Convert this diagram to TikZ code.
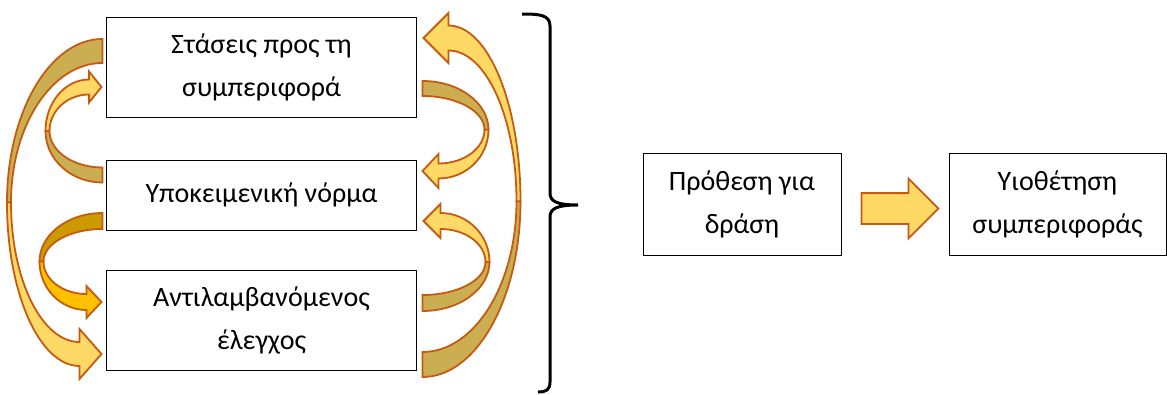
\documentclass[tikz,border=0pt]{standalone}
\usepackage{fontspec}
\setmainfont{Carlito}
\usepackage{tikz}
\usetikzlibrary{positioning,calc,shapes.arrows}
\usepackage{xcolor}

\definecolor{ribline}{HTML}{C55A11}
\definecolor{ribdark}{HTML}{CCAE52}
\definecolor{riblight}{HTML}{FFD966}
\definecolor{golddark}{HTML}{CC9A00}
\definecolor{goldlight}{HTML}{FFC000}

% twisted curved arrow: tail, tip, bulge, half width, head length, head half height, back colour, front colour
\newcommand{\ribbon}[8]{%
  \coordinate (rt) at (#1);
  \coordinate (rh) at (#2);
  \coordinate (re) at ($(rt)!.5!(rh)+(#3,0)$);
  \coordinate (rhb) at ($(rh)+(#5,0)$);
  \coordinate (rto) at ($(rt)!-#4!(rt|-rh)$);
  \coordinate (rti) at ($(rt)!#4!(rt|-rh)$);
  \coordinate (rho) at ($(rhb)!-#4!(rhb|-rt)$);
  \coordinate (rhi) at ($(rhb)!#4!(rhb|-rt)$);
  \coordinate (rbo) at ($(rhb)!-#6!(rhb|-rt)$);
  \coordinate (rbi) at ($(rhb)!#6!(rhb|-rt)$);
  \coordinate (reo) at ($(re)!-2pt!(rt|-re)$);
  \coordinate (rei) at ($(re)!2pt!(rt|-re)$);
  \filldraw[rib, fill=#7] (rto) .. controls ($(rto)!.552!(reo|-rto)$) and ($(reo)!.552!(reo|-rto)$) .. (reo)
    -- (rei) .. controls ($(rei)!.552!(rei|-rti)$) and ($(rti)!.552!(rei|-rti)$) .. (rti) -- cycle;
  \filldraw[rib, fill=#8] (reo) .. controls ($(reo)!.552!(reo|-rho)$) and ($(rho)!.552!(reo|-rho)$) .. (rho)
    -- (rbo) -- (rh) -- (rbi) -- (rhi) .. controls ($(rhi)!.552!(rei|-rhi)$) and ($(rei)!.552!(rei|-rhi)$) .. (rei) -- cycle;
}

\begin{document}
\begin{tikzpicture}[x=1pt, y=-1pt,
        box/.style = {draw, line width=1pt, fill=white, minimum width=310pt, align=center,
                      inner sep=0pt, font=\fontsize{28pt}{43pt}\selectfont},
        rib/.style = {draw=ribline, line width=1.8pt},
        blockarrow/.style = {single arrow, draw=ribline, fill=riblight, line width=1.8pt,
                      minimum height=77pt, inner xsep=0pt, inner ysep=14.5pt,
                      single arrow head extend=14.5pt},
        bracket/.style = {line width=3pt}
        ]
        \useasboundingbox (0,0) rectangle (1167,394);

        \node[box, minimum height=100pt] (att) at (261.5,67) {Στάσεις προς τη\\συμπεριφορά};
        \node[box, minimum height=70pt] (norm) at (261.5,195) {Υποκειμενική νόρμα};
        \node[box, minimum height=100pt] (ctrl) at (261.5,320) {Αντιλαμβανόμενος\\έλεγχος};
        \node[box, minimum width=198pt, minimum height=102pt] (intent) at (742,204) {Πρόθεση για\\δράση};
        \node[blockarrow, right=19pt of intent, yshift=-4.5pt] (act) {};
        \node[box, minimum width=217pt, minimum height=102pt, right=107pt of intent] (adopt) {Υιοθέτηση\\συμπεριφοράς};

        \ribbon{$(att.west)+(-3.5,-16)$}{$(ctrl.west)+(-4.5,34)$}{-93}{12pt}{-22}{25pt}{ribdark}{riblight}
        \ribbon{$(ctrl.east)+(5.5,44.5)$}{$(att.east)+(6.5,-29)$}{95.5}{12.5pt}{25}{25pt}{ribdark}{riblight}
        \ribbon{$(norm.west)+(-3.5,-20)$}{$(att.west)+(-4.5,20)$}{-54.5}{7.5pt}{-12.5}{15.5pt}{ribdark}{riblight}
        \ribbon{$(norm.west)+(-3.5,26)$}{$(ctrl.west)+(-4.5,-18)$}{-60.5}{8pt}{-15}{16pt}{golddark}{goldlight}
        \ribbon{$(att.east)+(5.5,21.5)$}{$(norm.east)+(5.5,-24)$}{64}{7.5pt}{16}{17pt}{ribdark}{riblight}
        \ribbon{$(ctrl.east)+(5.5,-17)$}{$(norm.east)+(6.5,26)$}{64.5}{8pt}{17}{17pt}{ribdark}{riblight}

        \draw[bracket] (522,14) .. controls (540,14) and (550,15) .. (550,26) -- (550,193)
            .. controls (550,201) and (556,205) .. (578,205)
            .. controls (556,205) and (550,209) .. (550,217) -- (550,382)
            .. controls (550,390) and (546,392) .. (538,392);
\end{tikzpicture}
\end{document}
